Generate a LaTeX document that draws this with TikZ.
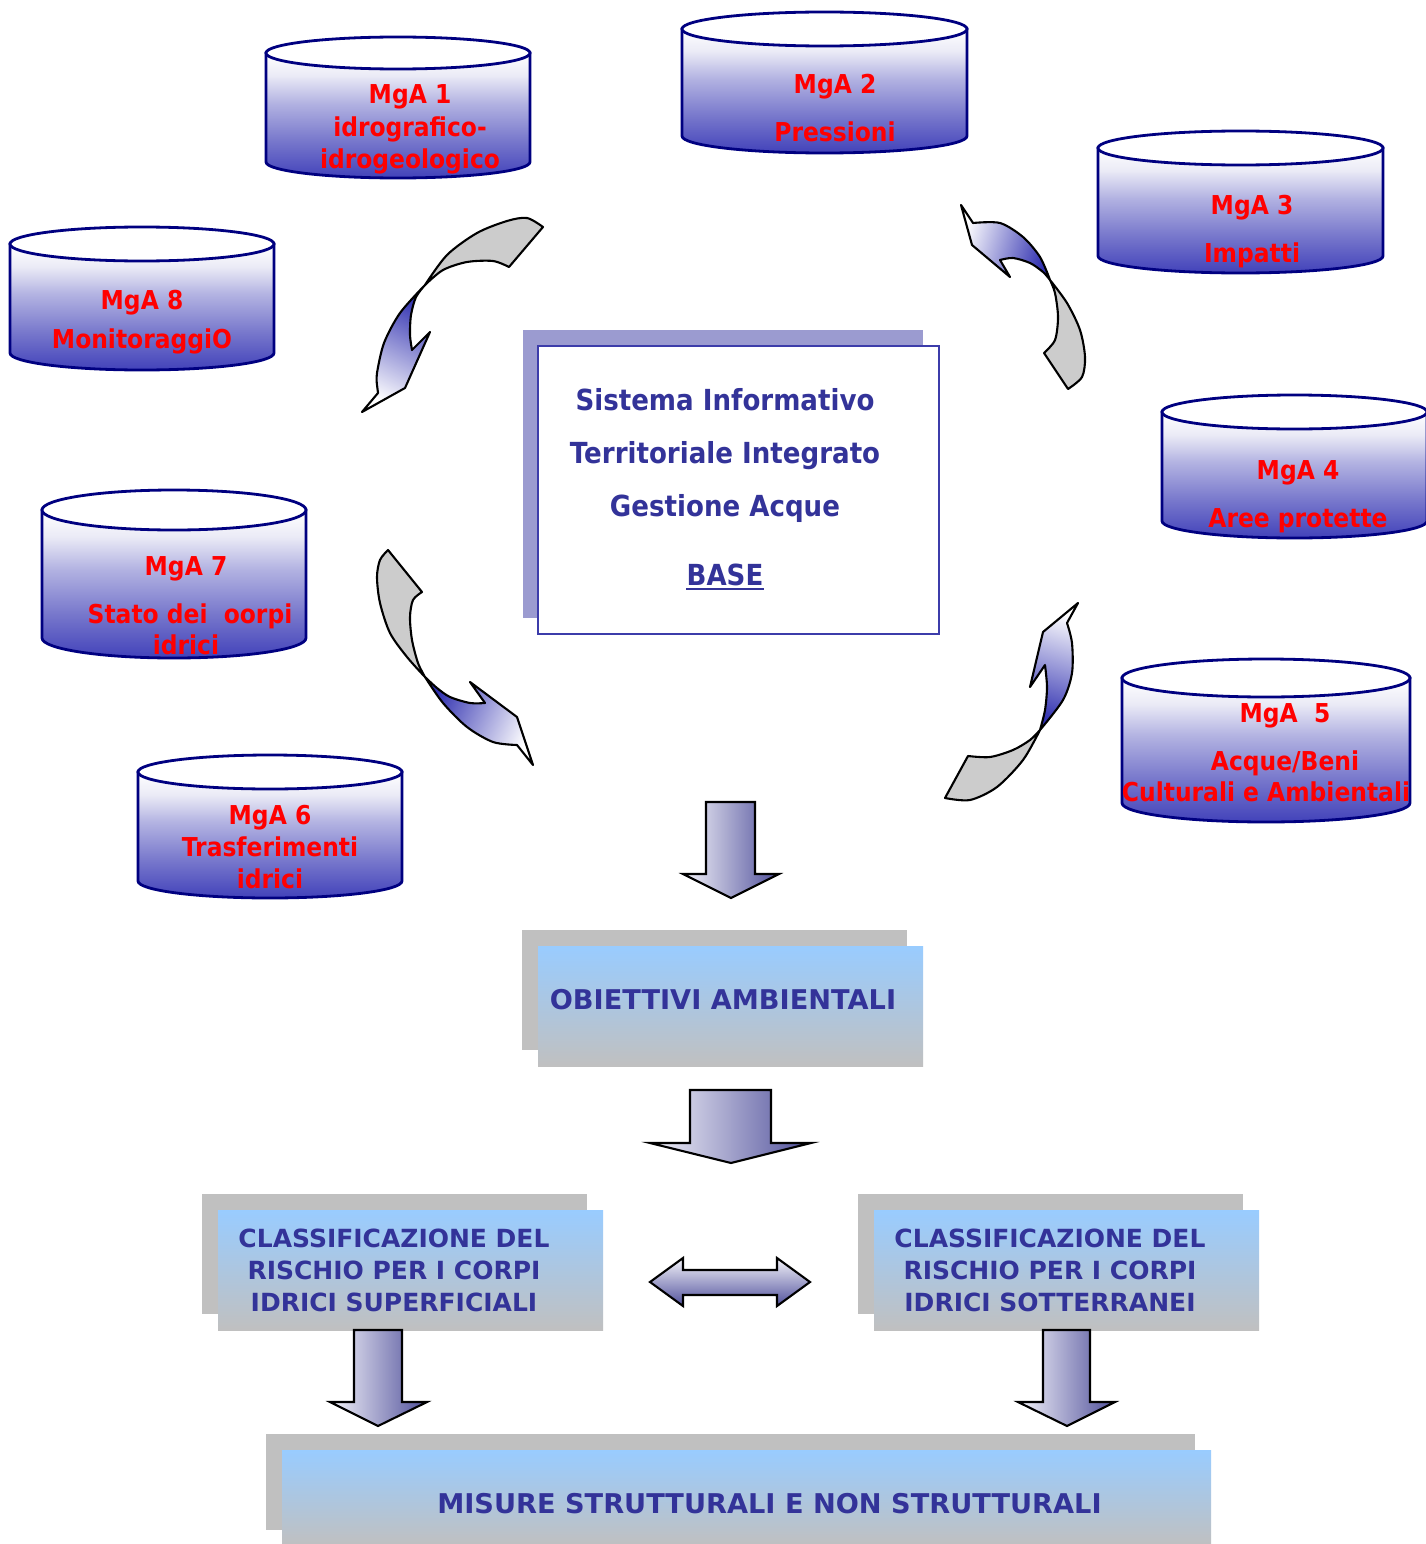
\documentclass[tikz,border=0pt]{standalone}
\usepackage{fontspec}
\newfontfamily\fa{DejaVu Sans}[FakeStretch=0.9]
\newfontfamily\fb{DejaVu Sans}
\definecolor{navy}{RGB}{0,0,128}
\definecolor{cylblue}{RGB}{66,66,186}
\definecolor{txtblue}{RGB}{51,51,153}
\definecolor{boxtop}{RGB}{153,204,255}
\definecolor{boxbot}{RGB}{192,192,192}
\definecolor{shadowgray}{RGB}{192,192,192}
\definecolor{shadowlav}{RGB}{155,155,208}
\definecolor{sitborder}{RGB}{60,60,170}
\definecolor{arrdark}{RGB}{80,80,155}
\definecolor{arrlight}{RGB}{244,244,250}
\definecolor{ribbon}{RGB}{48,48,176}
\definecolor{ribbongray}{RGB}{204,204,204}
\pgfdeclareverticalshading{cylshade}{100bp}{%
  rgb(0bp)=(0.259,0.259,0.729);
  rgb(25bp)=(0.259,0.259,0.729);
  rgb(40bp)=(0.47,0.47,0.80);
  rgb(55bp)=(0.70,0.70,0.885);
  rgb(66bp)=(0.92,0.92,0.965);
  rgb(75bp)=(1,1,1);
  rgb(100bp)=(1,1,1)}
\newcommand\mgacyl[5]{%
  \pgfmathsetmacro\cx{(#1+#2)/2}%
  \pgfmathsetmacro\rx{(#2-#1)/2}%
  \pgfmathsetmacro\yc{#3+#4}%
  \pgfmathsetmacro\yb{#5-#4}%
  \path[cylbody] (#1,\yc) -- (#1,\yb) arc[start angle=180,end angle=0,x radius=\rx,y radius=#4] -- (#2,\yc) -- cycle;
  \path[cyltop] (\cx,\yc) ellipse[x radius=\rx, y radius=#4];
}
\begin{document}
\begin{tikzpicture}[x=1pt,y=-1pt,
  cylbody/.style={draw=navy, line width=2.8pt, shading=cylshade},
  cyltop/.style={draw=navy, line width=2.8pt, fill=white},
  redtxt/.style={text=red, font=\fa\bfseries\fontsize{26}{30}\selectfont, anchor=base, inner sep=0pt},
  sittxt/.style={text=txtblue, font=\fa\bfseries\fontsize{29}{34}\selectfont, anchor=base, inner sep=0pt},
  boxtxt/.style={text=txtblue, font=\fb\bfseries\fontsize{27.2}{32}\selectfont, anchor=base, inner sep=0pt},
  clstxt/.style={text=txtblue, font=\fb\bfseries\fontsize{25}{32}\selectfont, align=center, inner sep=0pt},
  gradbox/.style={top color=boxtop, bottom color=boxbot, draw=none, inner sep=0pt},
  ribgray/.style={fill=ribbongray, draw=black, line width=2.1pt, line join=round},
  ribblue/.style={draw=black, line width=2.1pt, line join=round, top color=ribbon, bottom color=white},
  blockdown/.style={draw=black, line width=2.1pt, line join=miter, left color=arrlight, right color=arrdark},
  blockside/.style={draw=black, line width=2.1pt, line join=miter, top color=arrlight, bottom color=arrdark}
]
\useasboundingbox (0,0) rectangle (1425,1544);
\fill[white] (0,0) rectangle (1425,1544);

% ---------- cylinders ----------
\mgacyl{266}{530}{37}{16}{178}
\mgacyl{682}{967}{12}{17}{153}
\mgacyl{1098}{1383}{131}{17}{273}
\mgacyl{1162}{1427}{395}{17}{538}
\mgacyl{1122}{1410}{659}{19}{822}
\mgacyl{138}{402}{755}{17}{898}
\mgacyl{42}{306}{490}{20}{658}
\mgacyl{10}{274}{227}{17}{370}

\node[redtxt] (m1a) at (410,104) {MgA 1};
\node[redtxt] (m1b) at (410,136) {idrografico-};
\node[redtxt] (m1c) at (410,168) {idrogeologico};
\node[redtxt] (m2a) at (835,94) {MgA 2};
\node[redtxt] (m2b) at (835,142) {Pressioni};
\node[redtxt] (m3a) at (1252,214) {MgA 3};
\node[redtxt] (m3b) at (1252,262) {Impatti};
\node[redtxt] (m4a) at (1298,479) {MgA 4};
\node[redtxt] (m4b) at (1298,527) {Aree protette};
\node[redtxt] (m5a) at (1285,722) {MgA~ 5};
\node[redtxt] (m5b) at (1285,770) {Acque/Beni};
\node[redtxt] (m5c) at (1266,801) {Culturali e Ambientali};
\node[redtxt] (m6a) at (270,824) {MgA 6};
\node[redtxt] (m6b) at (270,856) {Trasferimenti};
\node[redtxt] (m6c) at (270,888) {idrici};
\node[redtxt] (m7a) at (186,575) {MgA 7};
\node[redtxt] (m7b) at (190,623) {Stato dei~ oorpi};
\node[redtxt] (m7c) at (186,654) {idrici};
\node[redtxt] (m8a) at (142,309) {MgA 8};
\node[redtxt] (m8b) at (142,348) {MonitoraggiO};

% ---------- central box ----------
\fill[shadowlav] (523,330) rectangle (923,618);
\node[draw=sitborder, line width=2pt, fill=white, minimum width=401pt, minimum height=288pt, inner sep=0pt] (sit) at (738.5,490) {};
\node[sittxt] (s1) at (725,410) {Sistema Informativo};
\node[sittxt] (s2) at (725,463) {Territoriale Integrato};
\node[sittxt] (s3) at (725,516) {Gestione Acque};
\node[sittxt] (s4) at (725,585) {BASE};
\draw[txtblue, line width=2.2pt] ([yshift=-3pt]s4.south west) -- ([yshift=-3pt]s4.south east);

% ---------- curved arrows ----------
% upper left
\path[ribgray] (543,227) -- (509,267) -- plot[smooth] coordinates {(509,267) (493,261) (467,262) (443,270) (425,285)}
  -- plot[smooth] coordinates {(425,285) (447,255) (477,233) (507,221) (527,218) (543,227)} -- cycle;
\path[ribblue, shading angle=-26] (425,285) -- plot[smooth] coordinates {(425,285) (400,313) (384,343) (377,373) (377,385)}
  -- (378,393) -- (362,412) -- (405,388) -- (430,332) -- (412,350)
  -- plot[smooth] coordinates {(412,350) (410,335) (411,315) (416,297) (425,285)} -- cycle;
% upper right
\path[ribblue, shading angle=-107] (961,205) -- (972,245) -- (1010,277) -- (1000,260)
  -- plot[smooth] coordinates {(1000,260) (1013,258) (1030,263) (1043,272) (1050,280)}
  -- plot[smooth] coordinates {(1050,280) (1040,257) (1023,237) (1000,223) (973,223)} -- cycle;
\path[ribgray] (1050,280) -- plot[smooth] coordinates {(1050,280) (1067,303) (1080,330) (1085,357) (1082,377) (1068,389)}
  -- (1044,353) -- plot[smooth] coordinates {(1044,353) (1055,340) (1058,317) (1055,293) (1050,280)} -- cycle;
% lower left
\path[ribgray] (388,550) -- (422,592) -- plot[smooth] coordinates {(422,592) (413,600) (410,617) (412,640) (418,663) (425,677)}
  -- plot[smooth] coordinates {(425,677) (407,657) (390,633) (380,603) (377,577) (380,560) (388,550)} -- cycle;
\path[ribblue, shading angle=66] (425,677) -- plot[smooth] coordinates {(425,677) (443,703) (467,727) (493,742) (517,745)}
  -- (533,765) -- (517,717) -- (470,682) -- (485,703)
  -- plot[smooth] coordinates {(485,703) (470,703) (450,697) (437,688) (425,677)} -- cycle;
% lower right
\path[ribgray] (1040,730) -- plot[smooth] coordinates {(1040,730) (1023,760) (997,787) (970,800) (945,798)}
  -- (968,756) -- plot[smooth] coordinates {(968,756) (990,757) (1013,750) (1030,740) (1040,730)} -- cycle;
\path[ribblue, shading angle=163] (1078,603) -- (1067,623)
  -- plot[smooth] coordinates {(1067,623) (1072,643) (1072,673) (1063,700) (1040,730)}
  -- plot[smooth] coordinates {(1040,730) (1045,710) (1047,687) (1045,665)}
  -- (1030,687) -- (1043,632) -- cycle;

% ---------- boxes ----------
\fill[shadowgray] (522,930) rectangle (907,1050);
\node[gradbox, minimum width=385pt, minimum height=120pt] (obj) at (730.5,1006) {};
\node[boxtxt] (objt) at (723,1009) {OBIETTIVI AMBIENTALI};

\fill[shadowgray] (202,1194) rectangle (587,1314);
\node[gradbox, minimum width=385pt, minimum height=120pt] (cls) at (410.5,1270) {};
\node[clstxt] (clst) at (394,1270) {CLASSIFICAZIONE DEL\\RISCHIO PER I CORPI\\IDRICI SUPERFICIALI};

\fill[shadowgray] (858,1194) rectangle (1243,1314);
\node[gradbox, minimum width=385pt, minimum height=120pt] (clr) at (1066.5,1270) {};
\node[clstxt] (clrt) at (1050,1270) {CLASSIFICAZIONE DEL\\RISCHIO PER I CORPI\\IDRICI SOTTERRANEI};

\fill[shadowgray] (266,1434) rectangle (1195,1530);
\node[gradbox, minimum width=929pt, minimum height=96pt] (mis) at (746.5,1498) {};
\node[boxtxt] (mist) at (769.5,1513) {MISURE STRUTTURALI E NON STRUTTURALI};

% ---------- block arrows ----------
\path[blockdown] (706,802) -- (755,802) -- (755,874) -- (779,874) -- (731,898) -- (683,874) -- (706,874) -- cycle;
\path[blockdown] (690,1090) -- (771,1090) -- (771,1143) -- (811,1143) -- (731,1163) -- (650,1143) -- (690,1143) -- cycle;
\path[blockside] (650,1282) -- (683,1258) -- (683,1270) -- (777,1270) -- (777,1258) -- (810,1282) -- (777,1306) -- (777,1295) -- (683,1295) -- (683,1306) -- cycle;
\path[blockdown] (354,1330) -- (402,1330) -- (402,1402) -- (427,1402) -- (378,1426) -- (330,1402) -- (354,1402) -- cycle;
\path[blockdown] (1043,1330) -- (1090,1330) -- (1090,1402) -- (1115,1402) -- (1067,1426) -- (1018,1402) -- (1043,1402) -- cycle;
\end{tikzpicture}
\end{document}
